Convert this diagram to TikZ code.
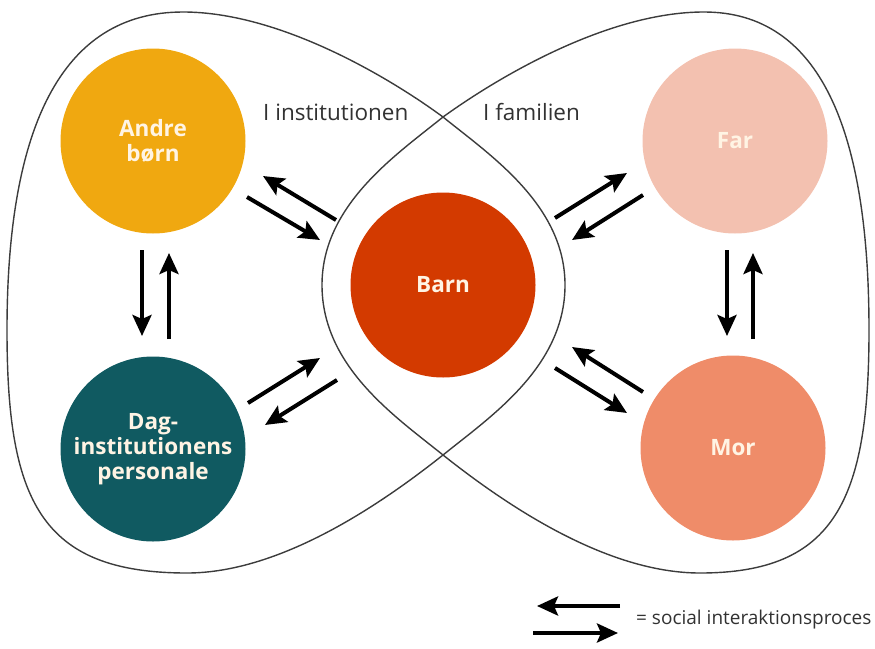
\documentclass[tikz,border=0pt]{standalone}
\usepackage{fontspec}
\setmainfont{Open Sans}
\usetikzlibrary{arrows.meta}
\definecolor{cAndre}{RGB}{240,168,16}
\definecolor{cBarn}{RGB}{211,58,0}
\definecolor{cDag}{RGB}{16,90,97}
\definecolor{cFar}{RGB}{243,193,176}
\definecolor{cMor}{RGB}{239,140,105}
\definecolor{lineGray}{RGB}{60,60,60}
\definecolor{labelGray}{RGB}{50,50,50}
\definecolor{nodeText}{RGB}{255,244,228}
\begin{document}
\begin{tikzpicture}[x=1pt,y=-1pt,
  lobe/.style={draw=lineGray,line width=1.4pt},
  person/.style={circle,minimum size=185pt,inner sep=0pt,text=nodeText,
    font=\bfseries\fontsize{22.5}{25}\selectfont,align=center},
  ia/.style={-{Stealth[length=21pt,width=19pt,inset=4pt]},line width=4pt,black},
  lab/.style={text=labelGray,font=\fontsize{22.5}{26}\selectfont,inner sep=0pt}]
\useasboundingbox (0,0) rectangle (875,648);

% lobes
\draw[lobe] (443,117) .. controls (490,155) and (565,205) .. (565,285)
  .. controls (565,367) and (490,417) .. (443,455)
  .. controls (380,505) and (280,573) .. (187,573)
  .. controls (40,573) and (7,500) .. (7,330)
  .. controls (7,130) and (60,12) .. (183,12)
  .. controls (280,12) and (390,78) .. (443,117);
\draw[lobe] (443,117) .. controls (396,155) and (322,205) .. (322,285)
  .. controls (322,367) and (396,417) .. (443,455)
  .. controls (506,505) and (606,573) .. (700,573)
  .. controls (835,573) and (869,500) .. (869,330)
  .. controls (869,130) and (820,12) .. (704,12)
  .. controls (607,12) and (497,78) .. (443,117);

% persons
\node[person,fill=cAndre] (andre) at (153,141) {Andre\\børn};
\node[person,fill=cBarn] (barn) at (443,285) {Barn};
\node[person,fill=cDag] (dag) at (153,449) {Dag-\\institutionens\\personale};
\node[person,fill=cFar] (far) at (735,141) {Far};
\node[person,fill=cMor] (mor) at (733,448) {Mor};

% labels
\node[lab,anchor=west] (linst) at (263,112) {I institutionen};
\node[lab,anchor=west] (lfam) at (483,112) {I familien};

% arrow end points
\coordinate (a1s) at (336,220); \coordinate (a1e) at (263,176);
\coordinate (a2s) at (247,197); \coordinate (a2e) at (320,240);
\coordinate (b1s) at (142,250); \coordinate (b1e) at (142,336);
\coordinate (b2s) at (169,339); \coordinate (b2e) at (169,253);
\coordinate (c1s) at (248,403); \coordinate (c1e) at (320,358);
\coordinate (c2s) at (337,380); \coordinate (c2e) at (265,425);
\coordinate (d1s) at (555,218); \coordinate (d1e) at (627,173);
\coordinate (d2s) at (643,195); \coordinate (d2e) at (572,240);
\coordinate (e1s) at (727,250); \coordinate (e1e) at (727,336);
\coordinate (e2s) at (753,339); \coordinate (e2e) at (753,253);
\coordinate (f1s) at (643,392); \coordinate (f1e) at (572,347);
\coordinate (f2s) at (555,368); \coordinate (f2e) at (627,413);

\foreach \p in {a,b,c,d,e,f}{
  \draw[ia] (\p1s) -- (\p1e);
  \draw[ia] (\p2s) -- (\p2e);
}

% legend
\coordinate (g1s) at (620,606); \coordinate (g1e) at (537,606);
\coordinate (g2s) at (533,633); \coordinate (g2e) at (618,633);
\draw[ia] (g1s) -- (g1e);
\draw[ia] (g2s) -- (g2e);
\node[text=labelGray,font=\fontsize{19}{22}\selectfont,anchor=west,inner sep=0pt] (leg) at (636,620) {= social interaktionsproces};
\end{tikzpicture}
\end{document}
